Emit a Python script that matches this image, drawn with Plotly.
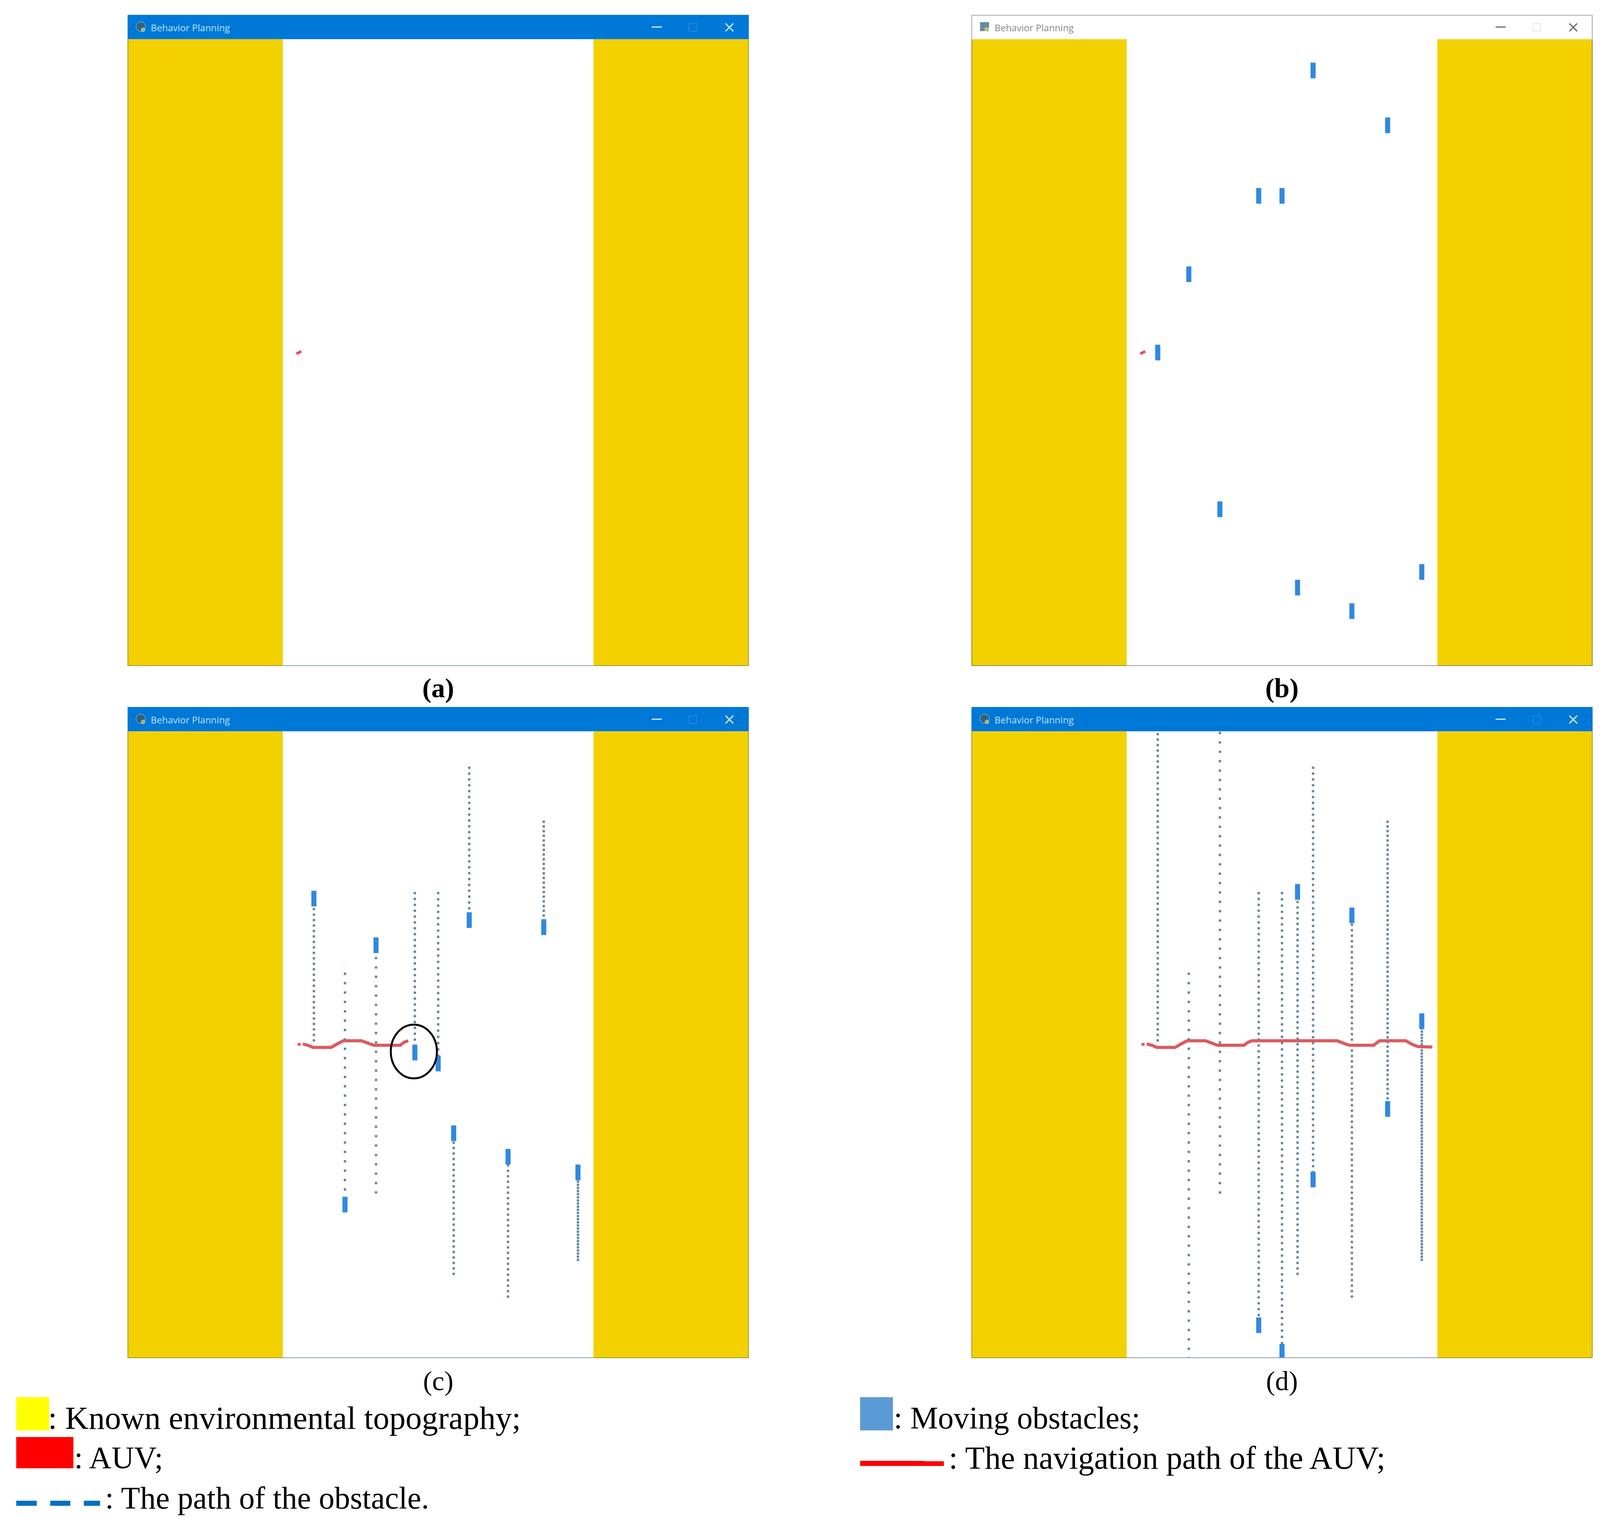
import plotly.graph_objects as go

# simulator window is 800 x 800 units, title bar sits above y = 0
wall_x = [100, 700]
obstacle_x = [240, 280, 320, 370, 400, 420, 440, 490, 536, 580]
obstacle_b = [400, 300, 600, 200, 200, 700, 40, 730, 110, 680]
obstacle_c = [213.5, 604, 273, 410, 424, 513, 241, 543, 250, 563]
obstacle_d = [-60, 860, -60, 758, 792, 205, 572, 235, 482, 370]
path_from = [396, 308, 590, 205, 205, 694, 45, 723, 114, 676]
dot_period = [14, 24, 24, 15, 16, 14, 15, 14, 12, 8]

auv_x = [217.5, 223.8]
auv_y = [401.6, 398.4]
start_x = [219, 223]
start_y = [399.5, 399.5]
nav_x = [225.8, 232.5, 238.9, 262.3, 270, 278, 301.4, 309, 317, 351, 356, 361.4,
         471, 478.7, 486.6, 517.9, 525.7, 559.6, 567.4, 575.2, 593.5]
nav_y = [399, 400.7, 403.5, 403.5, 399, 395, 395, 398, 400.7, 400.7, 397, 395,
         395, 398, 400.7, 400.7, 395, 395, 399.5, 402.4, 403]
nav_stop_c = 12  # panel (c) is caught halfway along the route

circle_c = [368.7, 408.7, 29.7, 34.3]

captions = ["(a)", "(b)", "(c)", "(d)"]
window_title = "Behavior Planning"

legend_text = [": Known environmental topography;", ": AUV;", ": The path of the obstacle.",
               ": Moving obstacles;", ": The navigation path of the AUV;"]

# page geometry in reference pixels. The browser window tops out at 4096 wide and
# the body keeps its 8 px margin, so x is squeezed a little to keep everything in view
SX = 4096 / 4141
FIG_W, FIG_H = 4088, 3909
panel_x = [(330, 1938), (2514, 4122), (330, 1938), (2514, 4122)]
panel_y = [(38, 1705), (38, 1705), (1810, 3477), (1810, 3477)]
caption_pos = [(1134, 1761), (3318, 1761), (1134, 3535), (3318, 3535)]
caption_bold = [True, True, False, False]
legend_pos = [(122, 3630), (190, 3732), (270, 3835), (2311, 3630), (2454, 3732)]
legend_size = [83, 80, 80, 80, 82]

YELLOW = "#f3d000"
BAR_BLUE = "#0078d7"
OBST = "#2f88e2"
DOT = "#5f86a8"
RED = "#dc5a60"
FONT = "Liberation Serif"


def fx(x):
    return (x * SX - 8) / FIG_W


def fy(y):
    return 1 - (y - 8) / FIG_H


fig = go.Figure()


def add_bar(n, x, base, height, width, color):
    fig.add_trace(go.Bar(x=x, y=height, base=base, width=width, marker=dict(color=color, line_width=0),
                         xaxis=f"x{n}", yaxis=f"y{n}", showlegend=False, hoverinfo="skip"))


def add_line(n, x, y, color, width, dash="solid"):
    fig.add_trace(go.Scatter(x=x, y=y, mode="lines", line=dict(color=color, width=width, dash=dash),
                             xaxis=f"x{n}", yaxis=f"y{n}", showlegend=False, hoverinfo="skip"))


def add_paths(n, obstacles):
    for x, start, obs, period in zip(obstacle_x, path_from, obstacles, dot_period):
        end = obs + 10 if obs < start else obs - 10
        end = min(max(end, 0), 800)
        add_line(n, [x, x], [start, end], DOT, 6, dash=f"6px,{period - 6}px")


def add_obstacles(n, obstacles):
    add_bar(n, obstacle_x, [y - 10 for y in obstacles], [20] * len(obstacles), 6.5, OBST)


def add_frame(n, edge, road_edge):
    add_line(n, [0, 0, 800, 800], [0, 800, 800, 0], edge, 4)
    add_line(n, [200, 600], [800, 800], road_edge, 4)


def add_titlebar(n, back, text, icon_a, icon_b, symbol):
    add_bar(n, [400], [-31], [31], 800, back)
    # minimize, maximize, close buttons
    add_line(n, [675, 688], [-15.4, -15.4], text, 3)
    add_line(n, [723, 733, 733, 723, 723], [-20, -20, -10, -10, -20], "#2a86dc" if back == BAR_BLUE else "#e8e8e8", 2)
    add_line(n, [770, 780], [-20, -10], text, 3)
    add_line(n, [770, 780], [-10, -20], text, 3)
    fig.add_trace(go.Scatter(x=[17, 20], y=[-16, -12], mode="markers",
                             marker=dict(color=[icon_a, icon_b], size=[24, 10], symbol=symbol),
                             xaxis=f"x{n}", yaxis=f"y{n}", showlegend=False, hoverinfo="skip"))
    fig.add_annotation(x=29, y=-15, xref=f"x{n}", yref=f"y{n}", text=window_title, showarrow=False,
                       xanchor="left", yanchor="middle",
                       font=dict(family="Open Sans", size=24, color="#b9e6fb" if back == BAR_BLUE else "#8a8a8a"))


# (a) start, only the AUV
add_bar(1, wall_x, [0, 0], [800, 800], 200, YELLOW)
add_line(1, auv_x, auv_y, "#e4505a", 7)
add_titlebar(1, BAR_BLUE, "#d5f0fb", "#465a5a", "#d4d46e", "circle")
add_frame(1, "#9a9a30", "#8aa0b4")

# (b) obstacles at their start positions
add_bar(2, wall_x, [0, 0], [800, 800], 200, YELLOW)
add_obstacles(2, obstacle_b)
add_line(2, auv_x, auv_y, "#e4505a", 7)
add_titlebar(2, "#ffffff", "#6a6a6a", "#2d5a70", "#d4d46e", "square")
add_frame(2, "#8a8a50", "#a0a0a0")
add_line(2, [0, 0, 800, 800], [0, -31, -31, 0], "#a8a8a8", 4)

# (c) AUV meets an obstacle, circled
add_bar(3, wall_x, [0, 0], [800, 800], 200, YELLOW)
add_obstacles(3, obstacle_c)
add_paths(3, obstacle_c)
add_line(3, start_x, start_y, RED, 7)
add_line(3, nav_x[:nav_stop_c], nav_y[:nav_stop_c], RED, 8)
add_titlebar(3, BAR_BLUE, "#d5f0fb", "#465a5a", "#d4d46e", "circle")
add_frame(3, "#9a9a30", "#8aa0b4")
cx, cy, rx, ry = circle_c
fig.add_shape(type="circle", xref="x3", yref="y3", x0=cx - rx, x1=cx + rx, y0=cy - ry, y1=cy + ry,
              line=dict(color="#000000", width=5))

# (d) route finished
add_bar(4, wall_x, [0, 0], [800, 800], 200, YELLOW)
add_obstacles(4, obstacle_d)
add_paths(4, obstacle_d)
add_line(4, start_x, start_y, RED, 7)
add_line(4, nav_x, nav_y, RED, 8)
add_titlebar(4, BAR_BLUE, "#d5f0fb", "#465a5a", "#d4d46e", "circle")
add_frame(4, "#9a9a30", "#8aa0b4")

for i in range(4):
    n = i + 1
    x0, x1 = panel_x[i]
    y0, y1 = panel_y[i]
    fig.update_layout(**{
        f"xaxis{n}": dict(domain=[fx(x0), fx(x1)], range=[0, 800], anchor=f"y{n}", showgrid=False,
                          zeroline=False, showticklabels=False, ticks="", showline=False),
        f"yaxis{n}": dict(domain=[fy(y1), fy(y0)], range=[800, -31], anchor=f"x{n}", showgrid=False,
                          zeroline=False, showticklabels=False, ticks="", showline=False),
    })
    fig.add_annotation(x=fx(caption_pos[i][0]), y=fy(caption_pos[i][1]), xref="paper", yref="paper",
                       text=f"<b>{captions[i]}</b>" if caption_bold[i] else captions[i], showarrow=False,
                       xanchor="center", yanchor="middle",
                       font=dict(family=FONT, size=70, color="#000000"))


def page_rect(x0, y0, x1, y1, color):
    fig.add_shape(type="rect", xref="paper", yref="paper", x0=fx(x0), x1=fx(x1), y0=fy(y0), y1=fy(y1),
                  fillcolor=color, line_width=0)


# legend at the bottom of the page
page_rect(42, 3577, 127, 3662, "#ffff00")
page_rect(42, 3679, 190, 3759, "#ff0000")
page_rect(2226, 3577, 2311, 3662, "#5b9bd5")
page_rect(2226, 3740, 2392, 3753, "#ff0000")
page_rect(2392, 3741, 2443, 3753, "#ff0000")
page_rect(42, 3842, 95, 3855, "#0070c0")
page_rect(130, 3842, 182, 3855, "#0070c0")
page_rect(217, 3842, 259, 3855, "#0070c0")

for text, (x, y), size in zip(legend_text, legend_pos, legend_size):
    fig.add_annotation(x=fx(x), y=fy(y), xref="paper", yref="paper", text=text, showarrow=False,
                       xanchor="left", yanchor="middle", font=dict(family=FONT, size=size, color="#000000"))

fig.update_layout(width=FIG_W, height=FIG_H, margin=dict(l=0, r=0, t=0, b=0), paper_bgcolor="#ffffff",
                  plot_bgcolor="#ffffff", barmode="overlay", showlegend=False)

fig.write_html("out.html")
